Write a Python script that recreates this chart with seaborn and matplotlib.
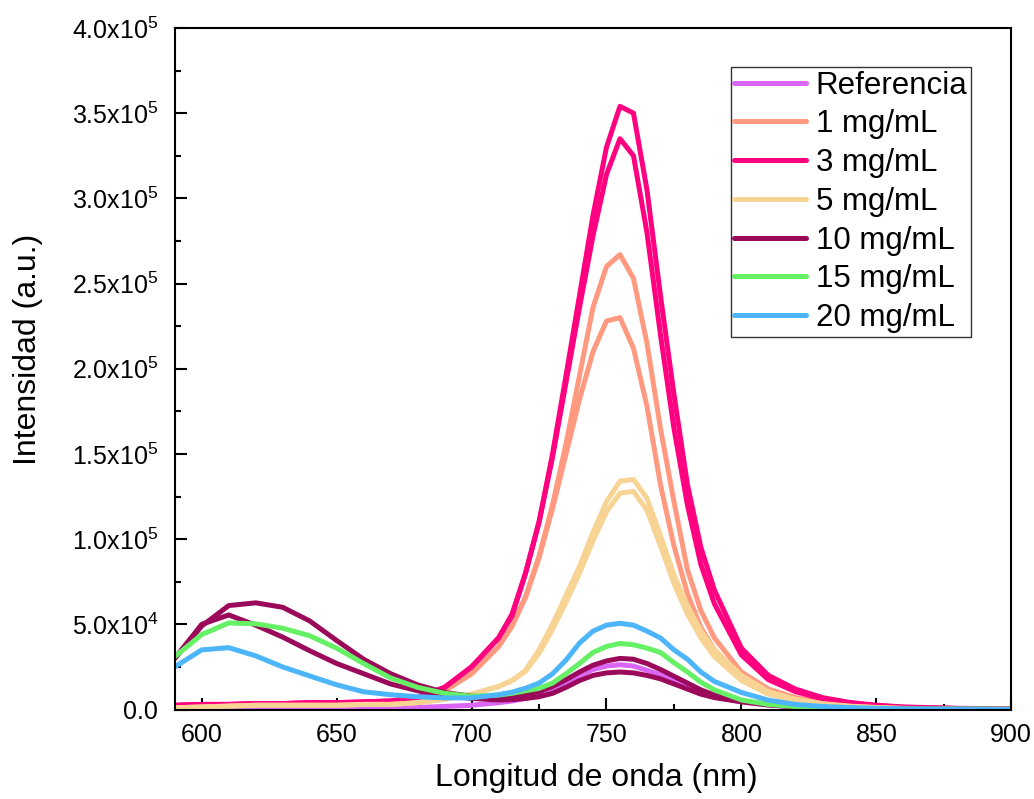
import numpy as np
import pandas as pd
import matplotlib
matplotlib.use('Agg')
import matplotlib.pyplot as plt
import seaborn as sns

sns.set_style("ticks")
plt.rcParams['font.family'] = ['Liberation Sans', 'DejaVu Sans']
plt.rcParams['mathtext.fontset'] = 'custom'
plt.rcParams['mathtext.rm'] = 'Liberation Sans'
plt.rcParams['mathtext.default'] = 'regular'
for k in ['text.color', 'axes.labelcolor', 'xtick.color', 'ytick.color']:
    plt.rcParams[k] = 'black'

# wavelength grid (nm)
wl = [590, 600, 610, 620, 630, 640, 650, 660, 670, 680, 690, 700,
      710, 715, 720, 725, 730, 735, 740, 745, 750, 755, 760, 765, 770, 775, 780, 785, 790,
      800, 810, 820, 830, 840, 850, 860, 880, 900]

# intensities, in units of 10^3 a.u.
ref = [0.3, 0.3, 0.3, 0.3, 0.4, 0.4, 0.5, 0.6, 0.8, 1.2, 1.8, 2.5,
       4, 5, 6.5, 8.5, 11.5, 15.5, 20, 23.5, 25.5, 26.3, 25.5, 23, 20.5, 17, 13.5, 10, 7.5,
       4.5, 2.6, 1.5, 0.9, 0.5, 0.3, 0.2, 0.1, 0.1]
mg1_a = [2, 2.5, 2.5, 3, 3, 3.5, 3.5, 4, 4.5, 6, 11, 21,
         37, 49, 66, 90, 120, 156, 196, 236, 260, 267, 253, 215, 165, 122, 82, 58, 42,
         22, 12, 7, 4.2, 2.5, 1.5, 0.9, 0.5, 0.3]
mg1_b = [2, 2.5, 2.5, 3, 3, 3.5, 3.5, 4, 4.5, 6, 11, 21,
         37, 49, 66, 89, 118, 150, 182, 210, 228, 230, 212, 178, 132, 96, 68, 48, 35,
         18, 10, 6, 3.6, 2.2, 1.3, 0.8, 0.4, 0.2]
mg3_a = [2.5, 3, 3, 3.5, 3.5, 4, 4, 4.5, 5, 7, 13, 25,
         42, 55, 80, 110, 150, 196, 243, 290, 330, 354, 350, 305, 243, 185, 132, 95, 70,
         36, 20, 12, 7, 4.2, 2.5, 1.5, 0.7, 0.4]
mg3_b = [2.5, 3, 3, 3.5, 3.5, 4, 4, 4.5, 5, 7, 13, 25,
         42, 56, 80, 110, 148, 192, 236, 278, 314, 335, 325, 280, 220, 165, 120, 85, 62,
         32, 17.5, 10.5, 6.2, 3.8, 2.2, 1.3, 0.6, 0.3]
mg5_a = [1, 1.5, 2, 2.5, 2.5, 2.5, 2.5, 3, 3, 4, 6, 9,
         13.5, 17, 23, 35, 50, 67, 84, 104, 122, 134, 135, 124, 102, 79, 61, 46, 35,
         20, 10.5, 6, 3.5, 2, 1.2, 0.7, 0.4, 0.2]
mg5_b = [1, 1.5, 2, 2.5, 2.5, 2.5, 2.5, 3, 3, 4, 6, 9,
         13.5, 17, 22.5, 33, 47, 63, 80, 99, 116, 127, 128, 117, 96, 74, 56, 42, 31,
         17, 9, 5.3, 3, 1.8, 1.1, 0.6, 0.3, 0.2]
mg10_a = [30, 49, 61, 62.6, 60, 52, 40.5, 29.5, 21, 14.5, 10, 7.8,
          7.2, 7.8, 8.8, 10.5, 13.5, 17.5, 22, 26, 28.5, 30, 29.5, 27, 23.5, 19.5, 15.5, 11.5, 8.5,
          5, 3, 1.8, 1.1, 0.7, 0.4, 0.3, 0.2, 0.1]
mg10_b = [30, 50, 55.5, 49.5, 42.5, 34.5, 27, 21, 15, 11, 8.3, 6.5,
          5.6, 5.8, 6.5, 7.5, 9.5, 13, 17, 20, 21.5, 22, 21.5, 20, 18, 15, 12, 9, 7,
          4.5, 2.7, 1.6, 1, 0.6, 0.4, 0.3, 0.2, 0.1]
mg15 = [31, 44, 50.8, 50.3, 47.7, 43.3, 36, 27, 18.5, 13, 9.5, 7.8,
        8.5, 9.5, 11, 12.4, 15.5, 21, 27, 33.5, 37, 38.8, 38, 36, 33.5, 27.5, 22, 16, 11.5,
        5.6, 3, 1.7, 1, 0.6, 0.4, 0.3, 0.2, 0.1]
mg20 = [25, 35, 36.3, 31.5, 25, 19.7, 14.5, 10.4, 8.7, 7.5, 6.8, 6.8,
        8.7, 10.2, 12.5, 15.5, 21, 29, 39, 46, 49.5, 50.6, 49.5, 46, 42, 35, 29.5, 22, 16.5,
        10, 5.5, 3, 1.8, 1.1, 0.7, 0.4, 0.2, 0.1]

samples = ['Referencia', '1 mg/mL', '3 mg/mL', '5 mg/mL', '10 mg/mL', '15 mg/mL', '20 mg/mL']
colors = ['#DA66F5', '#FF9980', '#FF0080', '#F7D394', '#9B0A5A', '#66F066', '#4DB5FA']

curves = [('Referencia', 'a', ref),
          ('1 mg/mL', 'a', mg1_a), ('1 mg/mL', 'b', mg1_b),
          ('3 mg/mL', 'a', mg3_a), ('3 mg/mL', 'b', mg3_b),
          ('5 mg/mL', 'a', mg5_a), ('5 mg/mL', 'b', mg5_b),
          ('10 mg/mL', 'a', mg10_a), ('10 mg/mL', 'b', mg10_b),
          ('15 mg/mL', 'a', mg15),
          ('20 mg/mL', 'a', mg20)]

rows = []
for name, rep, vals in curves:
    for x, v in zip(wl, vals):
        rows.append((name, rep, x, v * 1e3))
df = pd.DataFrame(rows, columns=['muestra', 'rep', 'wl', 'I'])

fig = plt.figure(figsize=(10.34, 7.99), dpi=100)
ax = fig.add_axes([0.169, 0.112, 0.809, 0.853])
sns.lineplot(data=df, x='wl', y='I', hue='muestra', units='rep', estimator=None,
             hue_order=samples, palette=colors, lw=3.6, sort=False, ax=ax)

ax.set_xlim(590, 900)
ax.set_ylim(0, 4e5)
ax.set_xticks(np.arange(600, 901, 50))
ax.xaxis.set_minor_locator(matplotlib.ticker.MultipleLocator(25))
ax.set_yticks(np.arange(0, 4.01e5, 5e4))
ax.yaxis.set_minor_locator(matplotlib.ticker.MultipleLocator(2.5e4))


def fmt(v, pos):
    if v == 0:
        return '0.0'
    e = int(np.floor(np.log10(v)))
    return '{:.1f}x10$^{{{}}}$'.format(v / 10 ** e, e)


ax.yaxis.set_major_formatter(matplotlib.ticker.FuncFormatter(fmt))
ax.tick_params(which='both', direction='in', width=1.5, labelsize=18)
ax.tick_params(which='major', length=8.5)
ax.tick_params(which='minor', length=4.5)
ax.tick_params(axis='x', pad=10)
ax.tick_params(axis='y', pad=12)
for s in ax.spines.values():
    s.set_linewidth(1.5)
    s.set_color('black')

ax.set_xlabel('Longitud de onda (nm)', fontsize=23)
ax.set_ylabel('Intensidad (a.u.)', fontsize=23)
ax.xaxis.set_label_coords(0.504, -0.079)
ax.yaxis.set_label_coords(-0.157, 0.529)

leg = ax.legend(loc='upper right', bbox_to_anchor=(0.952, 0.943), borderaxespad=0,
                fontsize=22.5, frameon=True, fancybox=False, framealpha=1,
                handlelength=2.3, handletextpad=0.3, labelspacing=0.28, borderpad=0.12)
leg.get_frame().set_edgecolor('#333333')
leg.get_frame().set_linewidth(1.0)
for line in leg.get_lines():
    line.set_linewidth(3.6)

fig.savefig('out.png', dpi=100)
